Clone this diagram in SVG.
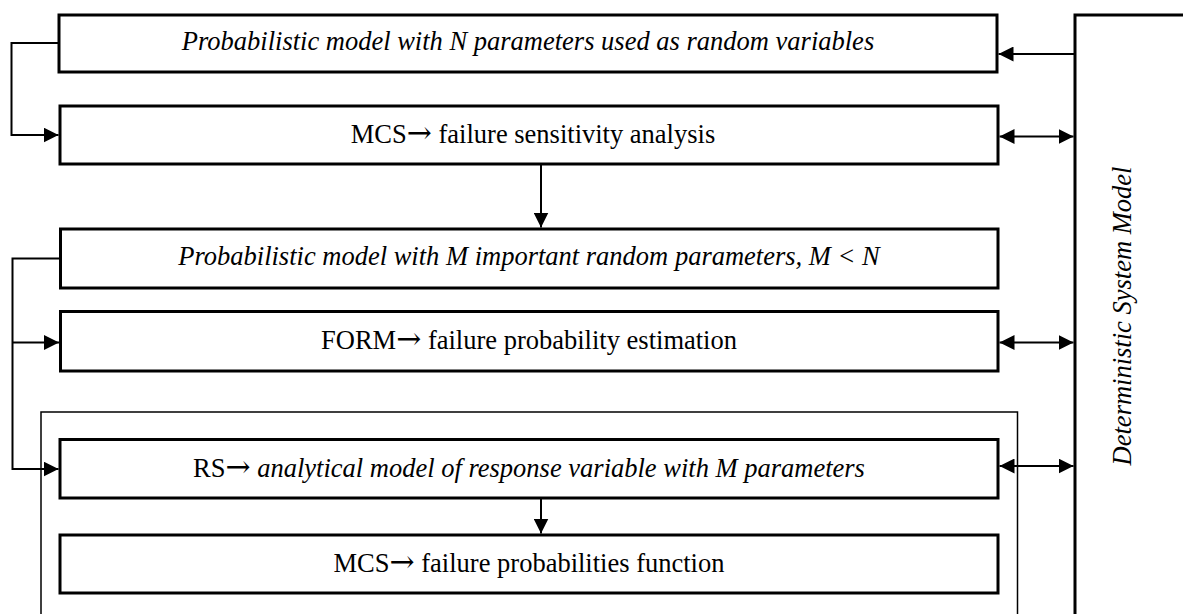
<svg xmlns="http://www.w3.org/2000/svg" width="1183" height="614" viewBox="0 0 1183 614">
<style>
  .box { fill: #fff; stroke: #000; stroke-width: 3; }
  .frame { fill: none; stroke: #000; stroke-width: 1.5; }
  .t { font-family: "Liberation Serif", "Times New Roman", serif; font-size: 26.5px; fill: #000; text-anchor: middle; }
  .i { font-style: italic; }
  .ar { font-family: "DejaVu Serif", serif; font-size: 30px; font-weight: 200; }
  .c { fill: none; stroke: #000; stroke-width: 2; }
</style>
<defs>
  <marker id="ah" viewBox="0 0 15 15" markerWidth="15" markerHeight="15" refX="15" refY="7.5" orient="auto-start-reverse" markerUnits="userSpaceOnUse">
    <path d="M0,0 L15,7.5 L0,15 z" fill="#000"/>
  </marker>
</defs>
<rect x="0" y="0" width="1183" height="614" fill="#fff"/>
<g id="frame"><rect class="frame" x="41" y="412" width="976.5" height="320"/></g>
<g id="det">
  <rect class="box" x="1075" y="15" width="220" height="700"/>
  <text class="t i" transform="translate(1131,316) rotate(-90)">Deterministic System Model</text>
</g>
<g id="n1">
  <rect class="box" x="59" y="15" width="938" height="57"/>
  <text class="t i" x="528" y="49.5">Probabilistic model with N parameters used as random variables</text>
</g>
<g id="n2">
  <rect class="box" x="60" y="106" width="938" height="58"/>
  <text class="t" x="533" y="143">MCS<tspan class="ar">→</tspan> failure sensitivity analysis</text>
</g>
<g id="n3">
  <rect class="box" x="60.5" y="229" width="937.5" height="59"/>
  <text class="t i" x="529" y="265">Probabilistic model with M important random parameters, M &lt; N</text>
</g>
<g id="n4">
  <rect class="box" x="60.5" y="311.5" width="937.5" height="59.5"/>
  <text class="t" x="529" y="349">FORM<tspan class="ar">→</tspan> failure probability estimation</text>
</g>
<g id="n5">
  <rect class="box" x="60" y="439.5" width="938" height="58.5"/>
  <text class="t" x="529" y="477">RS<tspan class="ar">→</tspan> <tspan class="i">analytical model of response variable with M parameters</tspan></text>
</g>
<g id="n6">
  <rect class="box" x="60" y="535" width="938" height="58"/>
  <text class="t" x="529" y="572">MCS<tspan class="ar">→</tspan> failure probabilities function</text>
</g>
<g id="connectors">
  <path class="c" d="M59,43 H11.5 V135 H58.5" marker-end="url(#ah)"/>
  <path class="c" d="M1075,54 H998.5" marker-end="url(#ah)"/>
  <path class="c" d="M999.5,136.5 H1073.5" marker-start="url(#ah)" marker-end="url(#ah)"/>
  <path class="c" d="M541,164 V227.5" marker-end="url(#ah)"/>
  <path class="c" d="M60,258.5 H12.5 V469 H58.5" marker-end="url(#ah)"/>
  <path class="c" d="M12.5,342.5 H59" marker-end="url(#ah)"/>
  <path class="c" d="M999.5,342.5 H1073.5" marker-start="url(#ah)" marker-end="url(#ah)"/>
  <path class="c" d="M999.5,466 H1073.5" marker-start="url(#ah)" marker-end="url(#ah)"/>
  <path class="c" d="M541,498 V533.5" marker-end="url(#ah)"/>
</g>
</svg>
